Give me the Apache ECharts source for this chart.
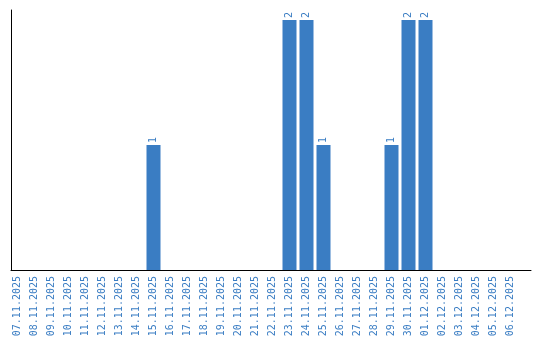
<!DOCTYPE html>
<html>
<head>
<meta charset="utf-8">
<script src="https://cdn.jsdelivr.net/npm/echarts@6/dist/echarts.min.js"></script>
<style>html,body{margin:0;padding:0;background:#fff}#c{width:540px;height:340px}</style>
</head>
<body>
<div id="c"></div>
<script>
const categories = ["07.11.2025","08.11.2025","09.11.2025","10.11.2025","11.11.2025","12.11.2025","13.11.2025","14.11.2025","15.11.2025","16.11.2025","17.11.2025","18.11.2025","19.11.2025","20.11.2025","21.11.2025","22.11.2025","23.11.2025","24.11.2025","25.11.2025","26.11.2025","27.11.2025","28.11.2025","29.11.2025","30.11.2025","01.12.2025","02.12.2025","03.12.2025","04.12.2025","05.12.2025","06.12.2025"];
const values = [0,0,0,0,0,0,0,0,1,0,0,0,0,0,0,0,2,2,1,0,0,0,1,2,2,0,0,0,0,0];

const blue = '#3a7dc3';
const font = 'DejaVu Sans Mono';
const chart = echarts.init(document.getElementById('c'), null, {renderer: 'canvas'});
chart.setOption({
  animation: false,
  backgroundColor: '#fff',
  grid: [
    {left: 9, width: 510, top: 10, bottom: 70},
    {left: 11, right: 9, top: 10, bottom: 70}
  ],
  xAxis: [
    {type: 'category', gridIndex: 0, data: categories,
     axisLine: {show: false}, axisTick: {show: false},
     axisLabel: {rotate: 90, interval: 0, margin: 6, color: blue, fontFamily: font, fontSize: 10}},
    {type: 'value', gridIndex: 1, min: 0, max: 1,
     axisLine: {show: true, onZero: false, lineStyle: {color: '#000', width: 1}},
     axisTick: {show: false}, axisLabel: {show: false}, splitLine: {show: false}}
  ],
  yAxis: [
    {type: 'value', gridIndex: 0, min: 0, max: 2.08,
     axisLine: {show: false}, axisTick: {show: false}, axisLabel: {show: false}, splitLine: {show: false}},
    {type: 'value', gridIndex: 1, min: 0, max: 1,
     axisLine: {show: true, onZero: false, lineStyle: {color: '#000', width: 1}},
     axisTick: {show: false}, axisLabel: {show: false}, splitLine: {show: false}}
  ],
  series: [{
    type: 'bar', xAxisIndex: 0, yAxisIndex: 0,
    data: values.map(v => v === 0 ? null : v),
    barWidth: 14,
    itemStyle: {color: blue},
    label: {show: true, position: 'top', rotate: 90, align: 'left', verticalAlign: 'middle',
            distance: 2, color: blue, fontFamily: font, fontSize: 10}
  }]
});
</script>
</body>
</html>
